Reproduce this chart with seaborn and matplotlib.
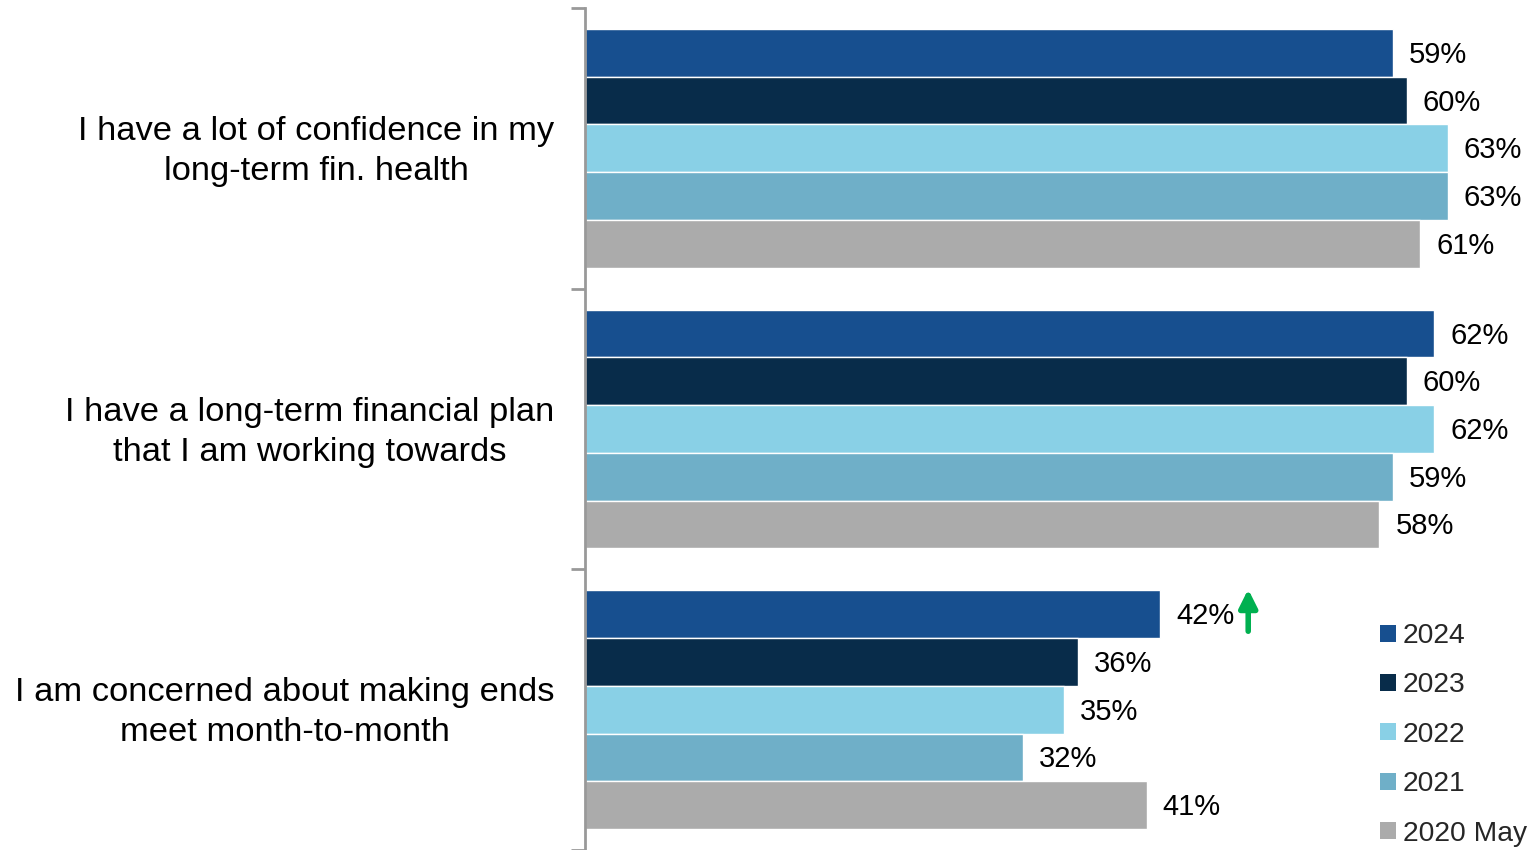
import matplotlib
matplotlib.use("Agg")
import matplotlib.pyplot as plt
from matplotlib.patches import Patch
from matplotlib.transforms import offset_copy, ScaledTranslation
import seaborn as sns
import pandas as pd

statements = [
    "I have a lot of confidence in my\nlong-term fin. health",
    "I have a long-term financial plan\nthat I am working towards",
    "I am concerned about making ends\nmeet month-to-month",
]
years = ["2024", "2023", "2022", "2021", "2020 May"]
v2024 = [59, 62, 42]
v2023 = [60, 60, 36]
v2022 = [63, 62, 35]
v2021 = [63, 59, 32]
v2020 = [61, 58, 41]
colors = ["#174F8F", "#082C4A", "#89D0E6", "#6FAFC8", "#ABABAB"]

series = [v2024, v2023, v2022, v2021, v2020]
df = pd.DataFrame(
    [(s, y, vals[i]) for y, vals in zip(years, series) for i, s in enumerate(statements)],
    columns=["statement", "year", "pct"],
)

sns.set_theme(style="white")
plt.rcParams["font.family"] = ["Liberation Sans", "DejaVu Sans"]

fig = plt.figure(figsize=(15.3, 8.5), dpi=100)
ax = fig.add_axes([585 / 1530, 0.0, 945 / 1530, 1 - 8 / 850])

sns.barplot(
    data=df, y="statement", x="pct", hue="year",
    order=statements, hue_order=years, palette=colors,
    width=0.85, orient="h", ax=ax, legend=False, saturation=1,
)

ax.set_xlim(0, 69)
ax.set_ylim(2.5, -0.5)
ax.set_xlabel("")
ax.set_ylabel("")
ax.set_xticks([])

for side in ["top", "right", "bottom"]:
    ax.spines[side].set_visible(False)
ax.spines["left"].set_color("#999999")
ax.spines["left"].set_linewidth(2)

# category labels centred, boundary ticks between groups
ax.set_yticks(range(len(statements)))
ax.set_yticklabels(statements, fontsize=24.8, multialignment="center", color="black",
                   linespacing=1.38)
ax.tick_params(axis="y", which="major", length=0, pad=22)
lift = ScaledTranslation(0, 5 / 100, fig.dpi_scale_trans)
for lbl in ax.get_yticklabels():
    lbl.set_transform(lbl.get_transform() + lift)
ax.set_yticks([-0.5, 0.5, 1.5, 2.5], minor=True)
ax.tick_params(axis="y", which="minor", length=10, width=2, color="#999999", left=True)

# value labels
for cont in ax.containers:
    for bar in cont:
        w = bar.get_width()
        yc = bar.get_y() + bar.get_height() / 2
        ax.annotate(f"{w:.0f}%", xy=(w, yc), xytext=(16, -2), textcoords="offset pixels",
                    ha="left", va="center", fontsize=21, color="black")

# up-arrow flagging the 2024 rise in the last statement
bar = ax.containers[0][2]
w = bar.get_width()
yc = bar.get_y() + bar.get_height() / 2
tip = offset_copy(ax.transData, fig=fig, x=88, y=25, units="dots")
tail = offset_copy(ax.transData, fig=fig, x=88, y=-17, units="dots")
ax.annotate("", xy=(w, yc), xycoords=tip, xytext=(w, yc), textcoords=tail,
            arrowprops=dict(arrowstyle="-|>,head_length=0.9,head_width=0.45",
                            color="#00B050", lw=4, shrinkA=0, shrinkB=0))

handles = [Patch(facecolor=c, edgecolor="none", label=y) for c, y in zip(colors, years)]
ax.legend(handles=handles, loc="lower right", bbox_to_anchor=(0.997, 0.004),
          frameon=False, fontsize=20.3, handlelength=0.55, handleheight=0.55,
          handletextpad=0.25, labelspacing=0.83, borderpad=0, borderaxespad=0)

fig.savefig("out.png", dpi=100)
